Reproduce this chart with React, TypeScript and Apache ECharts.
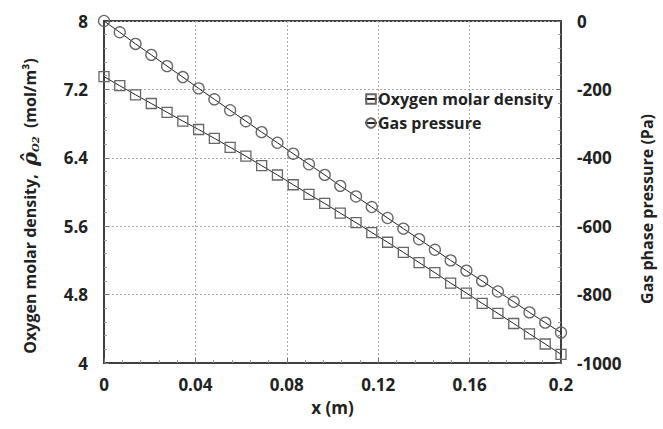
import React, { useEffect, useRef } from "react";
import * as echarts from "echarts";

const xPositions = [
  0, 0.0069, 0.0138, 0.0207, 0.0276, 0.0345, 0.0414, 0.0483, 0.0552, 0.0621,
  0.069, 0.0759, 0.0828, 0.0897, 0.0966, 0.1034, 0.1103, 0.1172, 0.1241, 0.131,
  0.1379, 0.1448, 0.1517, 0.1586, 0.1655, 0.1724, 0.1793, 0.1862, 0.1931, 0.2,
];

const oxygenDensity = [
  7.349, 7.243, 7.137, 7.035, 6.932, 6.83, 6.731, 6.628, 6.523, 6.419,
  6.308, 6.199, 6.085, 5.973, 5.866, 5.753, 5.641, 5.526, 5.412, 5.295,
  5.175, 5.056, 4.935, 4.818, 4.698, 4.58, 4.462, 4.341, 4.222, 4.102,
];

const gasPressure = [
  0, -33, -67, -99, -132, -164, -197, -229, -261, -293,
  -325, -356, -388, -419, -450, -482, -513, -544, -576, -607,
  -638, -669, -700, -730, -760, -791, -821, -852, -882, -911,
];

const seriesNames = ["Oxygen molar density", "Gas pressure"];

const FONT = "Open Sans";
const TEXT = "#222";
const AXIS = "#404040";

export default function App() {
  const ref = useRef<HTMLDivElement>(null);
  useEffect(() => {
    if (!ref.current) return;
    const chart = echarts.init(ref.current, undefined, { renderer: "svg" });
    const labelStyle = { color: TEXT, fontFamily: FONT, fontWeight: "bold" as const, fontSize: 16 };
    const tickCommon = {
      axisLine: { show: true, onZero: false, lineStyle: { color: AXIS, width: 2 } },
      axisTick: { show: true, inside: true, length: 5, lineStyle: { color: "#777", width: 1 } },
      minorTick: { show: true, splitNumber: 5, length: 3, lineStyle: { color: "#999", width: 1 } },
    };
    chart.setOption({
      animation: false,
      backgroundColor: "#fff",
      grid: {
        left: 104,
        right: 95,
        top: 21,
        bottom: 66,
        show: true,
        borderColor: AXIS,
        borderWidth: 2,
      },
      legend: {
        data: seriesNames,
        orient: "vertical",
        left: 359,
        top: 86,
        itemWidth: 12,
        itemHeight: 12,
        itemGap: 8,
        textStyle: { ...labelStyle, fontSize: 16, padding: [0, 0, 0, -4] },
      },
      xAxis: {
        type: "value",
        min: 0,
        max: 0.2,
        interval: 0.04,
        name: "x (m)",
        nameLocation: "middle",
        nameGap: 36,
        nameTextStyle: { ...labelStyle, fontSize: 17 },
        ...tickCommon,
        axisLabel: { ...labelStyle, fontSize: 17, margin: 13, formatter: (v: number) => String(+v.toFixed(2)) },
        splitLine: { show: true, lineStyle: { color: "#a8a8a8", type: [2, 2], width: 1 } },
      },
      yAxis: [
        {
          type: "value",
          min: 4,
          max: 8,
          interval: 0.8,
          name: "Oxygen molar density,  {r|ρ̂}{s|O2}  (mol/m³)",
          nameLocation: "middle",
          nameRotate: 90,
          nameGap: 64,
          nameTextStyle: {
            ...labelStyle,
            padding: [0, 28, 0, 0],
            rich: {
              r: { fontFamily: "DejaVu Serif", fontStyle: "italic", fontSize: 21, color: TEXT },
              s: { fontFamily: "DejaVu Serif", fontStyle: "italic", fontSize: 10, color: TEXT, verticalAlign: "bottom", padding: [8, 0, 0, 0] },
            },
          },
          ...tickCommon,
          axisLabel: { ...labelStyle, fontSize: 17, margin: 16, formatter: (v: number) => String(+v.toFixed(1)) },
          splitLine: { show: true, lineStyle: { color: "#a8a8a8", type: [2, 2], width: 1 } },
        },
        {
          type: "value",
          min: -1000,
          max: 0,
          interval: 200,
          name: "Gas phase pressure (Pa)",
          nameLocation: "middle",
          nameRotate: 90,
          nameGap: 78,
          nameTextStyle: { ...labelStyle, padding: [0, 34, 0, 0] },
          ...tickCommon,
          axisLabel: { ...labelStyle, fontSize: 17, margin: 16, formatter: (v: number) => String(v) },
          splitLine: { show: false },
        },
      ],
      series: [
        {
          name: seriesNames[0],
          type: "line",
          yAxisIndex: 0,
          data: xPositions.map((x, i) => [x, oxygenDensity[i]]),
          symbol: "rect",
          symbolSize: 10,
          lineStyle: { color: "#222", width: 1 },
          itemStyle: { color: "rgba(255,255,255,0)", borderColor: "#666", borderWidth: 1.3 },
          emphasis: { disabled: true },
        },
        {
          name: seriesNames[1],
          type: "line",
          yAxisIndex: 1,
          data: xPositions.map((x, i) => [x, gasPressure[i]]),
          symbol: "circle",
          symbolSize: 11,
          lineStyle: { color: "#222", width: 1 },
          itemStyle: { color: "rgba(255,255,255,0)", borderColor: "#666", borderWidth: 1.3 },
          emphasis: { disabled: true },
        },
      ],
    });
    return () => chart.dispose();
  }, []);
  return <div ref={ref} style={{ width: 663, height: 429, position: "absolute", left: 0, top: 0 }} />;
}
